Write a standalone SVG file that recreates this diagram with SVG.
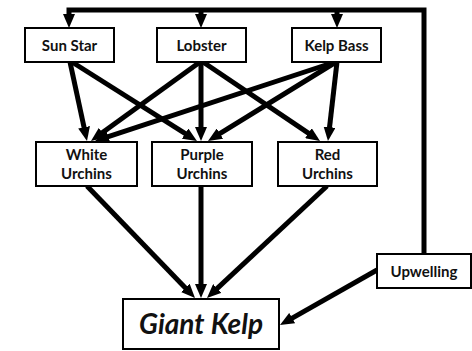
<svg xmlns="http://www.w3.org/2000/svg" width="472" height="351" viewBox="0 0 472 351">
  <defs>
    <marker id="head" markerUnits="userSpaceOnUse" viewBox="0 0 14 12" markerWidth="14" markerHeight="12" refX="4" refY="6" orient="auto">
      <path d="M0,0 L14,6 L0,12 z" fill="#000"/>
    </marker>
    <style>
      .box { fill: #fff; stroke: #000; stroke-width: 2; }
      .lbl { font-family: Lato, "Open Sans", "Liberation Sans", sans-serif; font-weight: bold; font-size: 15px; fill: #111; text-anchor: middle; }
      .big { font-size: 28px; font-style: italic; }
      .edge { fill: none; stroke: #000; stroke-width: 5; marker-end: url(#head); }
    </style>
  </defs>

  <g id="connectors">
    <!-- upwelling feedback loop across the top -->
    <polyline class="edge" points="424,254 424,10 69,10 69,18"/>
    <line class="edge" x1="201" y1="10" x2="201" y2="18"/>
    <line class="edge" x1="337" y1="10" x2="337" y2="18"/>
    <!-- predators to urchins -->
    <line class="edge" x1="70" y1="62" x2="84.9" y2="131.2"/>
    <line class="edge" x1="72" y1="62" x2="188.5" y2="135.7"/>
    <line class="edge" x1="200" y1="62" x2="99.1" y2="135.1"/>
    <line class="edge" x1="201" y1="62" x2="201" y2="131"/>
    <line class="edge" x1="203" y1="62" x2="311.7" y2="135.4"/>
    <line class="edge" x1="335" y1="62" x2="104.5" y2="137.9"/>
    <line class="edge" x1="336" y1="62" x2="216.5" y2="135.7"/>
    <line class="edge" x1="337" y1="62" x2="329.1" y2="131.1"/>
    <!-- urchins to kelp -->
    <line class="edge" x1="87" y1="186" x2="188.1" y2="290.8"/>
    <line class="edge" x1="201" y1="186" x2="201" y2="288"/>
    <line class="edge" x1="327" y1="186" x2="214.3" y2="291.2"/>
    <!-- upwelling to kelp -->
    <line class="edge" x1="377" y1="270" x2="288.7" y2="320.1"/>
  </g>

  <g id="sun-star">
    <rect class="box" x="25" y="28" width="89" height="34"/>
    <text class="lbl" x="69.5" y="51">Sun Star</text>
  </g>
  <g id="lobster">
    <rect class="box" x="157" y="28" width="89" height="34"/>
    <text class="lbl" x="201.5" y="51">Lobster</text>
  </g>
  <g id="kelp-bass">
    <rect class="box" x="292" y="28" width="89" height="34"/>
    <text class="lbl" x="336.5" y="51">Kelp Bass</text>
  </g>

  <g id="white-urchins">
    <rect class="box" x="36" y="142" width="101" height="44"/>
    <text class="lbl" x="86.5" y="160">White</text>
    <text class="lbl" x="86.5" y="179">Urchins</text>
  </g>
  <g id="purple-urchins">
    <rect class="box" x="152" y="142" width="100" height="44"/>
    <text class="lbl" x="202" y="160">Purple</text>
    <text class="lbl" x="202" y="179">Urchins</text>
  </g>
  <g id="red-urchins">
    <rect class="box" x="278" y="142" width="99" height="44"/>
    <text class="lbl" x="327.5" y="160">Red</text>
    <text class="lbl" x="327.5" y="179">Urchins</text>
  </g>

  <g id="upwelling">
    <rect class="box" x="377" y="254" width="94" height="34"/>
    <text class="lbl" x="424" y="277">Upwelling</text>
  </g>

  <g id="giant-kelp">
    <rect class="box" x="123" y="299" width="156" height="50"/>
    <text class="lbl big" x="201" y="334">Giant Kelp</text>
  </g>
</svg>
